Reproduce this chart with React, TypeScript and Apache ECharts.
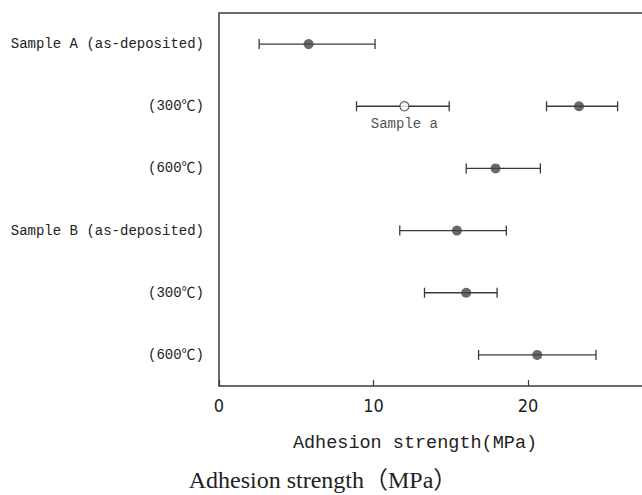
import React, { useEffect, useRef } from "react";
import * as echarts from "echarts";

const categories = [
  "Sample A (as-deposited)",
  "(300℃)",
  "(600℃)",
  "Sample B (as-deposited)",
  "(300℃)",
  "(600℃)",
];
const means = [5.8, 23.3, 17.9, 15.4, 16.0, 20.6];
const lows = [2.6, 21.2, 16.0, 11.7, 13.3, 16.8];
const highs = [10.1, 25.8, 20.8, 18.6, 18.0, 24.4];

const openName = "Sample a";
const openRow = 1;
const openMean = 12.0;
const openLow = 8.9;
const openHigh = 14.9;

const xTicks = [0, 10, 20, 30];
const xTitle = "Adhesion strength(MPa)";
const xTitle2 = "Adhesion strength（MPa）";

const MONO = "'Liberation Mono', 'DejaVu Sans Mono', 'Noto Sans CJK JP', monospace";
const NARROW = "'Liberation Sans Narrow', 'DejaVu Sans Condensed', 'Liberation Sans', sans-serif";
const INK = "#3a3a3a";

export default function App() {
  const ref = useRef<HTMLDivElement>(null);
  useEffect(() => {
    if (!ref.current) return;
    const chart = echarts.init(ref.current, undefined, { renderer: "svg" });
    const errData = means.map((m, i) => [i, lows[i], highs[i]]);
    errData.push([openRow, openLow, openHigh]);
    const renderItem = (params: any, api: any) => {
      const row = api.value(0);
      const lo = api.coord([api.value(1), row]);
      const hi = api.coord([api.value(2), row]);
      const h = 5;
      const style = { stroke: INK, lineWidth: 1.3, fill: "none" };
      return {
        type: "group",
        children: [
          { type: "line", shape: { x1: lo[0], y1: lo[1], x2: hi[0], y2: hi[1] }, style },
          { type: "line", shape: { x1: lo[0], y1: lo[1] - h, x2: lo[0], y2: lo[1] + h }, style },
          { type: "line", shape: { x1: hi[0], y1: hi[1] - h, x2: hi[0], y2: hi[1] + h }, style },
        ],
      };
    };
    chart.setOption({
      animation: false,
      grid: {
        left: 219,
        top: 13,
        width: 463.5,
        height: 373,
        containLabel: false,
        outerBoundsMode: "none",
        show: true,
        borderColor: INK,
        borderWidth: 1.5,
        backgroundColor: "transparent",
      },
      xAxis: {
        type: "value",
        min: xTicks[0],
        max: xTicks[xTicks.length - 1],
        interval: 10,
        axisLine: { show: false },
        axisTick: { show: true, inside: true, length: 6, lineStyle: { color: INK, width: 1.2 } },
        splitLine: { show: false },
        axisLabel: {
          fontFamily: NARROW,
          fontSize: 18,
          color: "#222",
          margin: 10,
          showMaxLabel: false,
        },
      },
      yAxis: {
        type: "category",
        data: categories,
        inverse: true,
        axisLine: { show: false },
        axisTick: { show: false },
        splitLine: { show: false },
        axisLabel: { fontFamily: MONO, fontSize: 14, color: "#222", margin: 15 },
      },
      series: [
        {
          type: "custom",
          renderItem,
          data: errData,
          encode: { x: [1, 2], y: 0 },
          z: 2,
        },
        {
          type: "scatter",
          data: means.map((m, i) => [m, i]),
          symbol: "circle",
          symbolSize: 10,
          itemStyle: { color: "#444" },
          z: 3,
        },
        {
          type: "scatter",
          data: [[openMean, openRow]],
          symbol: "circle",
          symbolSize: 9,
          itemStyle: { color: "#fff", borderColor: INK, borderWidth: 1.2 },
          label: {
            show: true,
            position: "bottom",
            distance: 6,
            formatter: openName,
            fontFamily: MONO,
            fontSize: 14,
            color: "#222",
          },
          z: 4,
        },
      ],
      graphic: [
        {
          type: "text",
          x: 415,
          y: 443,
          style: {
            text: xTitle,
            fontFamily: MONO,
            fontSize: 18.5,
            fill: "#222",
            align: "center",
            verticalAlign: "middle",
          },
        },
        {
          type: "text",
          x: 323,
          y: 480,
          style: {
            text: xTitle2,
            fontFamily: "'Liberation Serif', 'Noto Sans CJK JP', serif",
            fontSize: 24,
            fill: "#222",
            align: "center",
            verticalAlign: "middle",
          },
        },
      ],
    });
    return () => chart.dispose();
  }, []);
  return (
    <div
      ref={ref}
      style={{ position: "fixed", left: 0, top: 0, width: 642, height: 495, background: "#fff" }}
    />
  );
}
